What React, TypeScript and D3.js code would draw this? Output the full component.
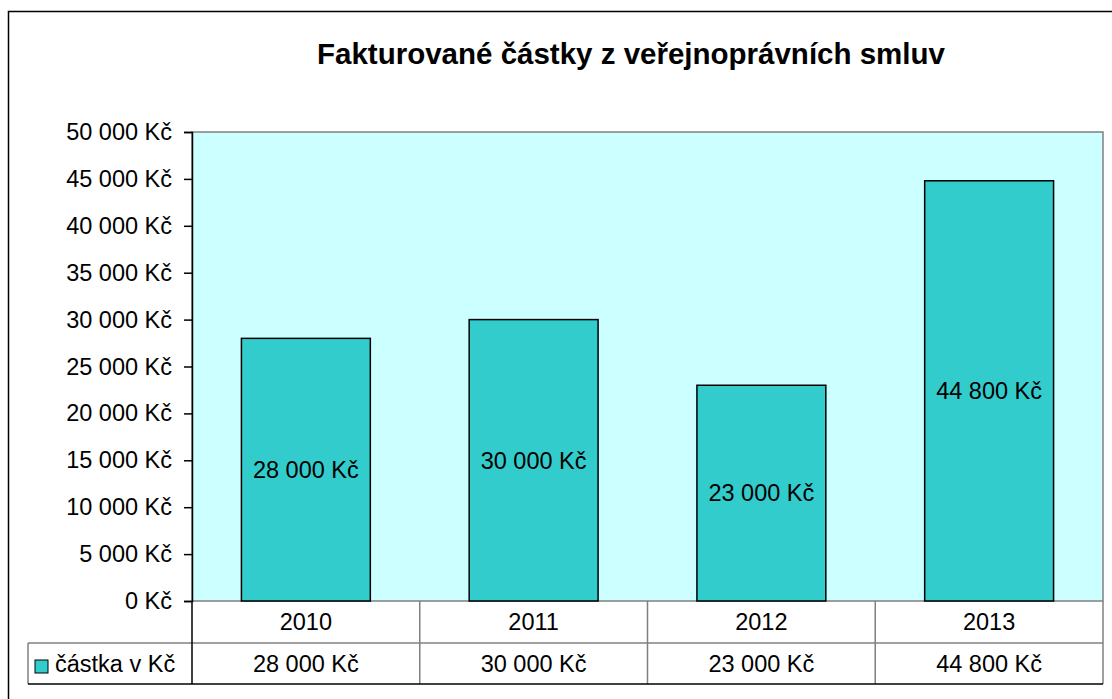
import React, { useRef, useEffect } from 'react';
import * as d3 from 'd3';

// chart values
const years = ['2010', '2011', '2012', '2013'];
const amounts = [28000, 30000, 23000, 44800];
const yTicks = [0, 5000, 10000, 15000, 20000, 25000, 30000, 35000, 40000, 45000, 50000];
const seriesName = 'částka v Kč';
const title = 'Fakturované částky z veřejnoprávních smluv';

const fmt = (v: number) => d3.format(',')(v).replace(/,/g, ' ') + ' Kč';

export default function App() {
  const svgRef = useRef<SVGSVGElement>(null);

  useEffect(() => {
    if (!svgRef.current) return;
    const svg = d3.select(svgRef.current);
    svg.selectAll('*').remove();

    const font = '"Liberation Sans", Arial, sans-serif';
    const fs = 23.5;
    const plot = { left: 192, right: 1103, top: 132, bottom: 601 };

    // outer frame (clipped at right/bottom like the reference)
    svg.append('rect')
      .attr('x', 8.5).attr('y', 11.5)
      .attr('width', 1120).attr('height', 720)
      .attr('fill', '#fff').attr('stroke', '#000').attr('stroke-width', 1.5);

    svg.append('text')
      .attr('x', 631).attr('y', 64)
      .attr('text-anchor', 'middle')
      .attr('font-family', font).attr('font-weight', 'bold').attr('font-size', 29.5)
      .text(title);

    const x = d3.scaleBand<string>()
      .domain(years)
      .range([plot.left, plot.right])
      .paddingInner(0.434)
      .paddingOuter(0.217);

    const y = d3.scaleLinear()
      .domain([0, 50000])
      .range([plot.bottom, plot.top]);

    // plot area
    svg.append('rect')
      .attr('x', plot.left).attr('y', plot.top)
      .attr('width', plot.right - plot.left).attr('height', plot.bottom - plot.top)
      .attr('fill', '#ccffff').attr('stroke', '#808080').attr('stroke-width', 1.5);

    // bars
    svg.selectAll('.bar')
      .data(amounts)
      .enter().append('rect')
      .attr('class', 'bar')
      .attr('x', (d, i) => x(years[i]) || 0)
      .attr('y', d => y(d))
      .attr('width', x.bandwidth())
      .attr('height', d => plot.bottom - y(d))
      .attr('fill', '#33cccc').attr('stroke', '#000').attr('stroke-width', 1.5);

    // labels in bars
    svg.selectAll('.lbl')
      .data(amounts)
      .enter().append('text')
      .attr('class', 'lbl')
      .attr('x', (d, i) => (x(years[i]) || 0) + x.bandwidth() / 2)
      .attr('y', d => (y(d) + plot.bottom) / 2)
      .attr('dy', '0.35em')
      .attr('text-anchor', 'middle')
      .attr('font-family', font).attr('font-size', fs)
      .text(d => fmt(d));

    // y axis
    const yAxis = svg.append('g')
      .attr('transform', `translate(${plot.left},0)`)
      .call(d3.axisLeft(y).tickValues(yTicks).tickSize(8).tickPadding(12).tickFormat(d => fmt(+d)));
    yAxis.selectAll('text').attr('font-family', font).attr('font-size', fs).attr('fill', '#000');
    yAxis.select('.domain').attr('stroke', '#000').attr('stroke-width', 1.5);
    yAxis.selectAll('.tick line').attr('stroke', '#000').attr('stroke-width', 1.5);

    // data table
    const row1 = plot.bottom, row2 = 643, row3 = 684, legendLeft = 28;
    const step = x.step();
    const g = svg.append('g').attr('stroke', '#808080').attr('stroke-width', 1.5).attr('fill', 'none');
    years.forEach((yr, i) => {
      const cx = plot.left + i * step;
      g.append('line').attr('x1', cx + step).attr('x2', cx + step).attr('y1', row1).attr('y2', row3);
    });
    g.append('line').attr('x1', legendLeft).attr('x2', plot.right).attr('y1', row2).attr('y2', row2);
    g.append('line').attr('x1', legendLeft).attr('x2', legendLeft).attr('y1', row2).attr('y2', row3);
    g.append('line').attr('x1', legendLeft).attr('x2', plot.right).attr('y1', row3).attr('y2', row3).attr('stroke', '#000');
    g.append('line').attr('x1', plot.left).attr('x2', plot.left).attr('y1', row1).attr('y2', row3).attr('stroke', '#000');

    svg.selectAll('.yr')
      .data(years)
      .enter().append('text')
      .attr('class', 'yr')
      .attr('x', (d, i) => plot.left + (i + 0.5) * step)
      .attr('y', (row1 + row2) / 2)
      .attr('dy', '0.35em')
      .attr('text-anchor', 'middle')
      .attr('font-family', font).attr('font-size', fs)
      .text(d => d);

    svg.selectAll('.val')
      .data(amounts)
      .enter().append('text')
      .attr('class', 'val')
      .attr('x', (d, i) => plot.left + (i + 0.5) * step)
      .attr('y', (row2 + row3) / 2)
      .attr('dy', '0.35em')
      .attr('text-anchor', 'middle')
      .attr('font-family', font).attr('font-size', fs)
      .text(d => fmt(d));

    // legend key
    svg.append('rect')
      .attr('x', 35).attr('y', 660).attr('width', 13).attr('height', 13)
      .attr('fill', '#33cccc').attr('stroke', '#000').attr('stroke-width', 1);
    svg.append('text')
      .attr('x', 55).attr('y', (row2 + row3) / 2)
      .attr('dy', '0.35em')
      .attr('font-family', font).attr('font-size', fs)
      .text(seriesName);
  }, []);

  return (
    <svg
      ref={svgRef}
      width={1112}
      height={699}
      style={{ position: 'absolute', left: 0, top: 0, display: 'block', background: '#fff' }}
    />
  );
}
